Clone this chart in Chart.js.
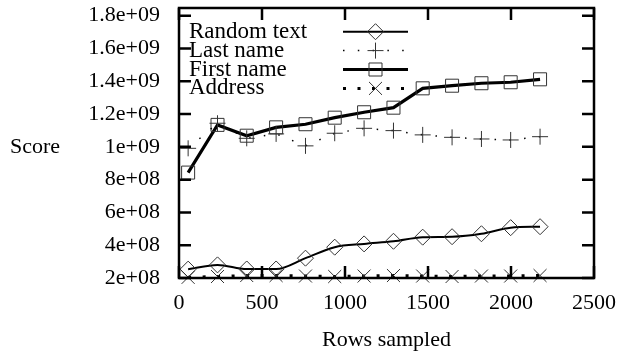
<!DOCTYPE html>
<html>
<head>
<meta charset="utf-8">
<script src="https://cdn.jsdelivr.net/npm/chart.js@4.4.1/dist/chart.umd.min.js"></script>
<style>
  body { margin: 0; background: #fff; }
  #wrap { width: 621px; height: 356px; }
</style>
</head>
<body>
<div id="wrap"><canvas id="chart"></canvas></div>
<script>
// values
const rows = [55, 232, 408, 585, 762, 938, 1115, 1292, 1468, 1645, 1822, 1998, 2175];
const randomText = [2.54e8, 2.80e8, 2.55e8, 2.55e8, 3.21e8, 3.88e8, 4.08e8, 4.24e8, 4.49e8, 4.52e8, 4.70e8, 5.07e8, 5.13e8];
const lastName = [9.91e8, 1.144e9, 1.052e9, 1.079e9, 1.006e9, 1.083e9, 1.113e9, 1.099e9, 1.073e9, 1.058e9, 1.048e9, 1.042e9, 1.062e9];
const firstName = [8.43e8, 1.134e9, 1.068e9, 1.119e9, 1.138e9, 1.178e9, 1.211e9, 1.239e9, 1.357e9, 1.373e9, 1.388e9, 1.394e9, 1.412e9];
const address = [2.04e8, 2.09e8, 2.15e8, 2.15e8, 2.12e8, 2.09e8, 2.12e8, 2.15e8, 2.12e8, 2.09e8, 2.12e8, 2.12e8, 2.15e8];
const seriesNames = ['Random text', 'Last name', 'First name', 'Address'];

const FONT = '"Liberation Serif", "Times New Roman", serif';
const FSIZE = 22;
const FRAME_TOP = 1.847e9; // the box reaches a bit above the last tick

const pts = vals => rows.map((x, i) => ({ x: x, y: vals[i] }));

// gnuplot style labels: 1.8e+09, 1e+09, 8e+08
function sci(v) {
  return Number(v).toExponential().replace(/e([+-])(\d)$/, 'e$10$2');
}

const framePlugin = {
  id: 'frame',
  afterDatasetsDraw(chart) {
    const { ctx, chartArea: a, scales: { x, y } } = chart;
    const top = y.getPixelForValue(FRAME_TOP);
    ctx.save();
    ctx.strokeStyle = '#000';
    ctx.lineWidth = 2.5;
    ctx.setLineDash([]);
    ctx.strokeRect(a.left, top, a.right - a.left, a.bottom - top);

    // inward ticks on all four sides
    ctx.beginPath();
    x.ticks.forEach(t => {
      const px = x.getPixelForValue(t.value);
      ctx.moveTo(px, a.bottom); ctx.lineTo(px, a.bottom - 12);
      ctx.moveTo(px, top); ctx.lineTo(px, top + 12);
    });
    y.ticks.forEach(t => {
      const py = y.getPixelForValue(t.value);
      ctx.moveTo(a.left, py); ctx.lineTo(a.left + 12, py);
      ctx.moveTo(a.right, py); ctx.lineTo(a.right - 12, py);
    });
    ctx.stroke();

    // legend: text on the left, sample on the right
    ctx.font = '23px ' + FONT;
    ctx.fillStyle = '#000';
    ctx.textBaseline = 'middle';
    ctx.textAlign = 'left';
    chart.data.datasets.forEach((ds, i) => {
      const ly = 31.7 + 18.9 * i;
      ctx.fillText(ds.label, 189, ly);
      ctx.strokeStyle = '#000';
      ctx.lineWidth = ds.borderWidth;
      ctx.setLineDash(ds.borderDash || []);
      ctx.beginPath();
      ctx.moveTo(343, ly); ctx.lineTo(408, ly);
      ctx.stroke();
      ctx.setLineDash([]);
      ctx.strokeStyle = ds.pointBorderColor;
      ctx.fillStyle = 'rgba(0,0,0,0)';
      ctx.lineWidth = ds.pointBorderWidth;
      Chart.helpers.drawPoint(ctx, { pointStyle: ds.pointStyle, radius: ds.pointRadius, rotation: 0, borderWidth: ds.pointBorderWidth }, 375.5, ly);
      ctx.fillStyle = '#000';
    });

    // axis titles
    ctx.font = FSIZE + 'px ' + FONT;
    ctx.textAlign = 'center';
    ctx.fillText('Score', 35, 147);
    ctx.fillText('Rows sampled', (a.left + a.right) / 2, 340);
    ctx.restore();
  }
};

const common = {
  borderColor: '#000',
  pointBorderColor: '#333',
  pointBorderWidth: 1,
  pointBackgroundColor: 'rgba(0,0,0,0)',
  fill: false,
  clip: false
};

new Chart(document.getElementById('chart'), {
  type: 'line',
  data: {
    datasets: [
      Object.assign({}, common, {
        label: seriesNames[0], data: pts(randomText),
        borderWidth: 2, cubicInterpolationMode: 'monotone',
        pointStyle: 'rectRot', pointRadius: 8
      }),
      Object.assign({}, common, {
        label: seriesNames[1], data: pts(lastName),
        borderWidth: 1.5, borderDash: [1.5, 13.3],
        pointStyle: 'cross', pointRadius: 8
      }),
      Object.assign({}, common, {
        label: seriesNames[2], data: pts(firstName),
        borderWidth: 3.2,
        pointStyle: 'rect', pointRadius: 9.2
      }),
      Object.assign({}, common, {
        label: seriesNames[3], data: pts(address),
        borderWidth: 3, borderDash: [3, 11.5],
        pointStyle: 'crossRot', pointRadius: 9.2
      })
    ]
  },
  options: {
    responsive: true,
    maintainAspectRatio: false,
    animation: false,
    layout: { padding: { left: 0, top: 15.7, right: 27, bottom: 0 } },
    plugins: { legend: { display: false }, tooltip: { enabled: false } },
    scales: {
      x: {
        type: 'linear', min: 0, max: 2500,
        grid: { display: false, drawTicks: false },
        border: { display: false },
        ticks: { stepSize: 500, padding: 12, color: '#000', maxRotation: 0, autoSkip: false,
                 font: { family: FONT, size: FSIZE },
                 callback: v => String(v) },
        afterFit(s) { s.height = 78; s.paddingLeft = 0; s.paddingRight = 0; }
      },
      y: {
        min: 2e8, max: 1.8e9,
        grid: { display: false, drawTicks: false },
        border: { display: false },
        ticks: { stepSize: 2e8, padding: 19, color: '#000', autoSkip: false,
                 font: { family: FONT, size: FSIZE },
                 callback: v => sci(v) },
        afterFit(s) { s.width = 179; s.paddingTop = 0; s.paddingBottom = 0; }
      }
    }
  },
  plugins: [framePlugin]
});
</script>
</body>
</html>
